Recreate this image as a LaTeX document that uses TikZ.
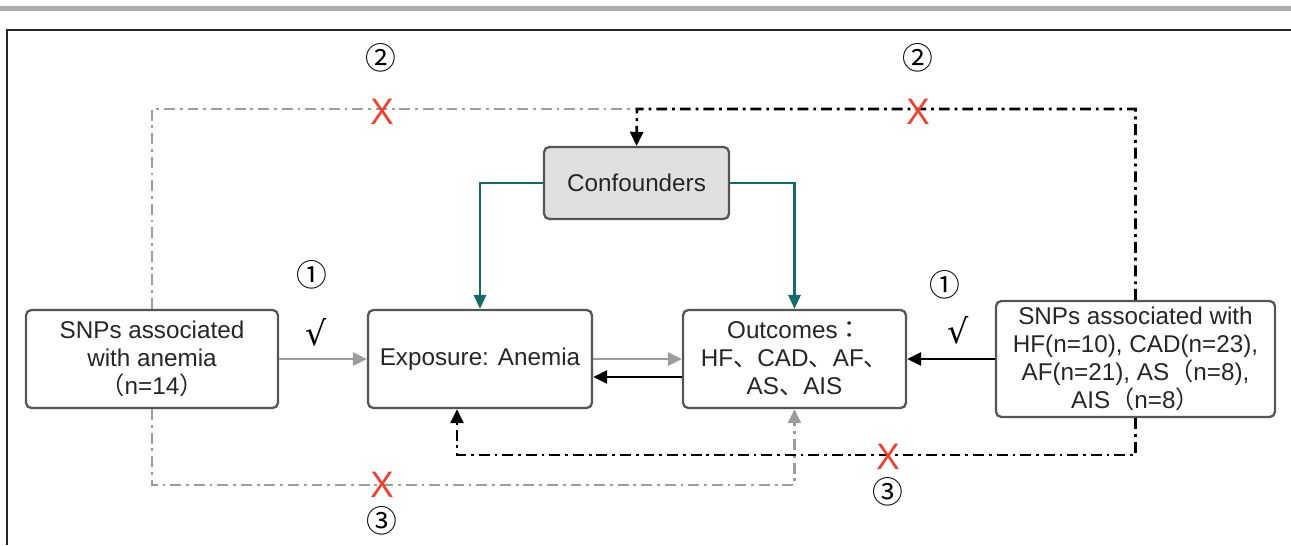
\documentclass[tikz,border=0pt]{standalone}
\usepackage{fontspec}
\setmainfont{Liberation Sans}
\newfontfamily\cjk{Noto Sans CJK SC}
\newfontfamily\cjkjp{Noto Sans CJK JP}
\newfontfamily\symfont{DejaVu Serif}
\usetikzlibrary{arrows.meta}

\definecolor{boxline}{HTML}{555555}
\definecolor{txt}{HTML}{262626}
\definecolor{conf}{HTML}{136A6C}
\definecolor{lgray}{HTML}{9C9C9C}
\definecolor{xred}{HTML}{F2402F}
\definecolor{cfill}{HTML}{E0E0E0}
\definecolor{barg}{HTML}{ABABAB}

\tikzset{
  box/.style={draw=boxline, line width=1.3pt, rounded corners=3pt, fill=white,
    text=txt, align=center, inner sep=0pt,
    font=\fontsize{13.8}{15.9}\selectfont},
  ddash/.style={dash pattern=on 6.2pt off 2.8pt on 1.6pt off 2.8pt},
  kdash/.style={ddash, draw=black, line width=1.45pt},
  gdash/.style={ddash, draw=lgray, line width=1.35pt},
  ktip/.style={-{Triangle[length=8pt,width=7.5pt]}},
  gtip/.style={-{Triangle[length=8pt,width=7.5pt]}},
  karrow/.style={draw=black, line width=1.45pt, ktip},
  garrow/.style={draw=lgray, line width=1.45pt, gtip},
  tarrow/.style={draw=conf, line width=1.4pt, -{Triangle[length=8pt,width=7pt]}},
  circnum/.style={text=black, inner sep=0pt, text height=12pt, text depth=1.5pt,
    font=\cjk\fontsize{17.5}{17.5}\selectfont},
  tick/.style={text=black, inner sep=0pt, font=\symfont\fontsize{19}{19}\selectfont},
  cross/.style={text=xred, inner sep=0pt, text height=14.5pt, text depth=0pt,
    font=\fontsize{21}{21}\selectfont, xscale=0.95},
}

\begin{document}
\begin{tikzpicture}[x=0.02cm, y=-0.02cm]
\useasboundingbox (0,0) rectangle (1291,545);

% page rule and frame
\fill[barg] (0,6) rectangle (1291,11);
\draw[line width=1.2pt, draw=black!85] (7,545) -- (7,30) -- (1291,30);

% boxes
\node[box, minimum width=5.04cm, minimum height=1.96cm] (L) at (152,359)
  {SNPs associated\\with anemia\\{\cjk （}n=14{\cjk ）}};
\node[box, minimum width=4.48cm, minimum height=1.96cm] (E) at (480,359)
  {Exposure: Anemia};
\node[box, minimum width=4.46cm, minimum height=1.96cm] (O) at (794.5,359)
  {Outcomes{\cjkjp ：}\\HF{\cjk 、}CAD{\cjk 、}AF{\cjk 、}\\AS{\cjk 、}AIS};
\node[box, minimum width=5.58cm, minimum height=2.32cm] (R) at (1135.5,359)
  {SNPs associated with\\HF(n=10), CAD(n=23),\\AF(n=21), AS{\cjk （}n=8),\\AIS{\cjk （}n=8{\cjk ）}};
\node[box, fill=cfill, minimum width=3.7cm, minimum height=1.44cm] (C) at (636.5,183)
  {Confounders};

% confounder paths
\draw[tarrow] (C.west) -| (E.north);
\draw[tarrow] (C.east) -| (O.north);

% direct paths
\draw[garrow] (L.east) -- (E.west);
\draw[garrow] (E.east) -- (O.west);
\draw[karrow] ([yshift=-0.36cm]O.west) -- ([yshift=-0.36cm]E.east);
\draw[karrow] (R.west) -- (O.east);

% pleiotropy paths through confounders
\coordinate (J) at (637,109);
\draw[gdash] (L.north) |- (J);
\draw[kdash, ktip] (R.north) |- (J) -- (C.north);

% direct paths bypassing the exposure
\coordinate (gb) at (794.5,485);
\coordinate (kb) at (457,455);
\draw[gdash, gtip] (L.south) |- (gb) -- (O.south);
\draw[kdash, ktip] (R.south) |- (kb) -- (kb |- E.south);

% assumption labels
\node[circnum] (n1a) at (312,277) {①};
\node[circnum] (n1b) at (945,287) {①};
\node[circnum] (n2a) at (381,60) {②};
\node[circnum] (n2b) at (918,60) {②};
\node[circnum] (n3a) at (382,523) {③};
\node[circnum] (n3b) at (888,494) {③};

\node[tick] (t1) at (316,332) {√};
\node[tick] (t2) at (958,330) {√};

\node[cross] (x1) at (382,112) {X};
\node[cross] (x2) at (918,112) {X};
\node[cross] (x3) at (382,485) {X};
\node[cross] (x4) at (888,457) {X};
\end{tikzpicture}
\end{document}
